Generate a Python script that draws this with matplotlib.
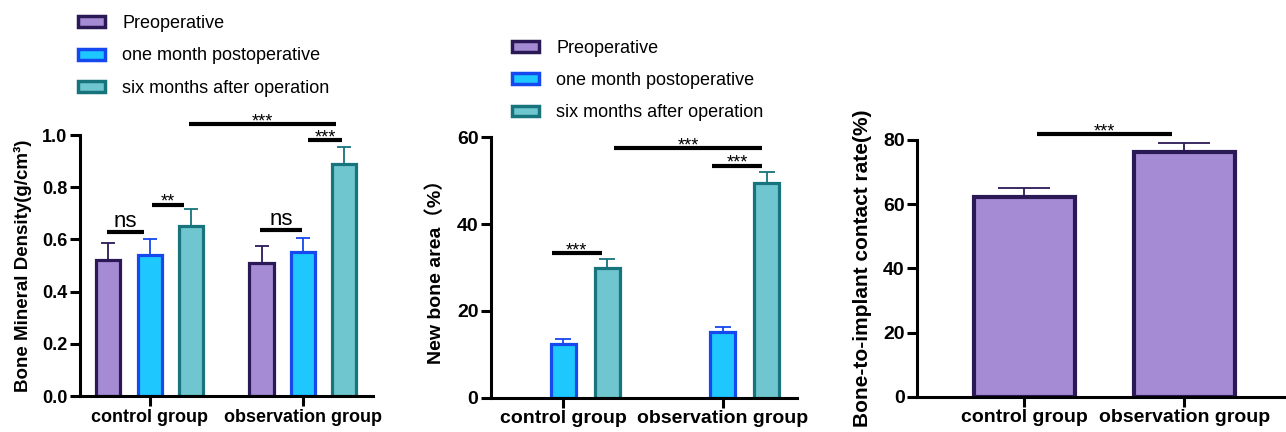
import numpy as np
import matplotlib
matplotlib.use('Agg')
import matplotlib.pyplot as plt
from matplotlib.patches import Patch

plt.rcParams['font.family'] = ['Liberation Sans', 'Noto Sans CJK SC']

groups = ['control group', 'observation group']
series = ['Preoperative', 'one month postoperative', 'six months after operation']
fill_colors = ['#A58BD4', '#1EC8FE', '#70C6CE']
edge_colors = ['#2B1956', '#1548EE', '#17737C']

# bone mineral density, rows = series, cols = groups
bmd_means = [[0.52, 0.51], [0.54, 0.55], [0.65, 0.89]]
bmd_errs = [[0.065, 0.065], [0.06, 0.055], [0.065, 0.065]]
# brackets: (group a, slot a, group b, slot b, height, label)
bmd_sig = [(0, -0.04, 0, 0.86, 0.628, 'ns'),
           (0, 1.05, 0, 1.82, 0.733, '**'),
           (1, -0.04, 1, 0.98, 0.636, 'ns'),
           (1, 1.12, 1, 1.94, 0.98, '***'),
           (0, 1.94, 1, 1.80, 1.042, '***')]

# new bone area (%), no preoperative value
nba_means = [[np.nan, np.nan], [12.3, 15.1], [30.0, 49.5]]
nba_errs = [[0, 0], [1.2, 1.2], [2.0, 2.6]]
nba_sig = [(0, 0.74, 0, 1.87, 33.3, '***'),
           (1, 0.76, 1, 1.90, 53.5, '***'),
           (0, 2.14, 1, 1.90, 57.5, '***')]

# bone-to-implant contact rate (%)
bic_means = [62.1, 76.4]
bic_errs = [3.0, 2.8]
bic_sig = [(0.083, 0.925, 81.8, '***')]


def style_axes(ax, tick_size, xlab_size):
    for s in ['top', 'right']:
        ax.spines[s].set_visible(False)
    for s in ['left', 'bottom']:
        ax.spines[s].set_linewidth(2.2)
    ax.tick_params(width=2.2, length=7, labelsize=tick_size, pad=2)
    ax.set_xticks(range(len(groups)))
    ax.set_xticklabels(groups, fontweight='bold', fontsize=xlab_size)
    for lab in ax.get_yticklabels():
        lab.set_fontweight('bold')


def grouped_bars(ax, means, errs, step, width, capsize):
    x = np.arange(len(groups))
    for i in range(len(series)):
        xs = x + (i - 1) * step
        m = np.array(means[i], dtype=float)
        ax.bar(xs, m, width=width, color=fill_colors[i], edgecolor=edge_colors[i],
               linewidth=2.3, zorder=2)
        ok = ~np.isnan(m)
        if ok.any():
            e = np.array(errs[i], dtype=float)[ok]
            ax.errorbar(xs[ok], m[ok], yerr=[np.zeros_like(e), e], fmt='none',
                        ecolor=edge_colors[i], elinewidth=1.3, capsize=capsize,
                        capthick=1.3, zorder=1)


def bracket(ax, x1, x2, y, label):
    ax.plot([x1, x2], [y, y], color='black', lw=3, solid_capstyle='butt', clip_on=False)
    if label == 'ns':
        size, dy = 16, 3.5
    else:
        size, dy = 13, -1.5
    ax.annotate(label, ((x1 + x2) / 2, y), xytext=(0, dy), textcoords='offset points',
                ha='center', va='baseline', fontsize=size, annotation_clip=False)


fig = plt.figure(figsize=(12.86, 4.32), dpi=100)

# panel 1
ax1 = fig.add_axes([0.0622, 0.0833, 0.2278, 0.6042])
step1 = 0.271
grouped_bars(ax1, bmd_means, bmd_errs, step1, 0.157, 5)
for ga, sa, gb, sb, y, lab in bmd_sig:
    bracket(ax1, ga + (sa - 1) * step1, gb + (sb - 1) * step1, y, lab)
ax1.set_ylim(0, 1.0)
ax1.set_xlim(-0.457, 1.457)
ax1.set_yticks(np.arange(0, 1.01, 0.2))
ax1.set_yticklabels(['%.1f' % v for v in np.arange(0, 1.01, 0.2)])
style_axes(ax1, 13, 13)
ax1.set_ylabel('Bone Mineral Density(g/cm³)', fontsize=13.5, fontweight='bold')
ax1.yaxis.set_label_coords(-0.164, 0.5)

# panel 2
ax2 = fig.add_axes([0.3818, 0.0794, 0.2377, 0.6027])
step2 = 0.277
grouped_bars(ax2, nba_means, nba_errs, step2, 0.157, 6)
for ga, sa, gb, sb, y, lab in nba_sig:
    bracket(ax2, ga + (sa - 1) * step2, gb + (sb - 1) * step2, y, lab)
ax2.set_ylim(0, 60)
ax2.set_xlim(-0.454, 1.465)
ax2.set_yticks([0, 20, 40, 60])
style_axes(ax2, 14, 14)
ax2.set_ylabel('New bone area（%）', fontsize=14, fontweight='bold')
ax2.yaxis.set_label_coords(-0.15, 0.5)

# panel 3
ax3 = fig.add_axes([0.7133, 0.0817, 0.2867, 0.5943])
x3 = np.arange(len(groups))
ax3.bar(x3, bic_means, width=0.63, color=fill_colors[0], edgecolor=edge_colors[0],
        linewidth=3, zorder=2)
ax3.errorbar(x3, bic_means, yerr=[np.zeros(len(bic_errs)), bic_errs], fmt='none',
             ecolor=edge_colors[0], elinewidth=1.3, capsize=19, capthick=1.3, zorder=1)
for x1, x2, y, lab in bic_sig:
    bracket(ax3, x1, x2, y, lab)
ax3.set_ylim(0, 80)
ax3.set_xlim(-0.666, 1.634)
ax3.set_yticks([0, 20, 40, 60, 80])
style_axes(ax3, 14, 14)
ax3.set_ylabel('Bone-to-implant contact rate(%)', fontsize=15, fontweight='bold')
ax3.yaxis.set_label_coords(-0.124, 0.5)

# legends
handles = [Patch(facecolor=fill_colors[i], edgecolor=edge_colors[i], linewidth=2.5)
           for i in range(len(series))]
legend_kw = dict(loc='upper left', frameon=False, fontsize=13, handlelength=1.5,
                 handleheight=0.55, handletextpad=0.95, labelspacing=0.85,
                 borderpad=0, borderaxespad=0)
fig.legend(handles, series, bbox_to_anchor=(0.0607, 0.965), **legend_kw)
fig.legend(handles, series, bbox_to_anchor=(0.398, 0.908), **legend_kw)

fig.savefig('out.png', dpi=100)
